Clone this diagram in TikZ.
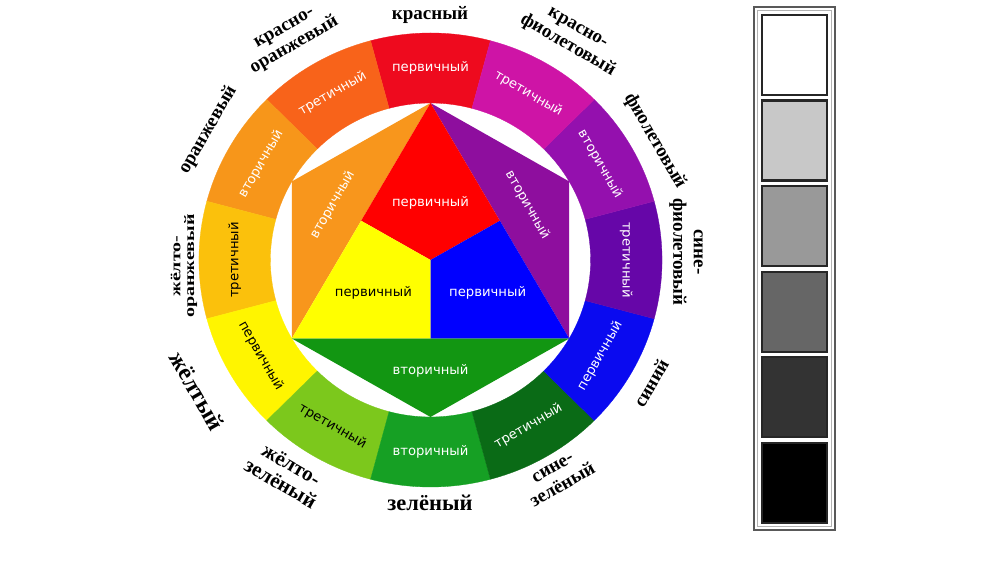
\documentclass[tikz,border=0pt]{standalone}
\usepackage{fontspec}
\usetikzlibrary{calc}
\setmainfont{Liberation Serif}
\newfontfamily\ringfont{DejaVu Sans}
\definecolor{cR}{HTML}{EE0A1E}
\definecolor{cRO}{HTML}{F8631A}
\definecolor{cO}{HTML}{F7961A}
\definecolor{cYO}{HTML}{FBC10C}
\definecolor{cY}{HTML}{FFF500}
\definecolor{cYG}{HTML}{7CC81C}
\definecolor{cG}{HTML}{16A024}
\definecolor{cBG}{HTML}{0A6B16}
\definecolor{cB}{HTML}{0A0AF0}
\definecolor{cBV}{HTML}{6606A8}
\definecolor{cV}{HTML}{9410AE}
\definecolor{cRV}{HTML}{CE14A6}
\definecolor{iR}{HTML}{FF0000}
\definecolor{iY}{HTML}{FFFF00}
\definecolor{iB}{HTML}{0000FF}
\definecolor{iO}{HTML}{F8961C}
\definecolor{iV}{HTML}{8E0E9E}
\definecolor{iG}{HTML}{129612}
\definecolor{g0}{HTML}{FFFFFF}
\definecolor{g1}{HTML}{C8C8C8}
\definecolor{g2}{HTML}{999999}
\definecolor{g3}{HTML}{666666}
\definecolor{g4}{HTML}{333333}
\definecolor{g5}{HTML}{000000}
\begin{document}
\begin{tikzpicture}[x=1pt,y=1pt,
  ringlbl/.style={font=\ringfont\fontsize{13.2}{14}\selectfont, inner sep=0pt},
  outlbl/.style={font=\bfseries\fontsize{19}{20.5}\selectfont, align=center, inner sep=0pt, text=black},
  graysq/.style={rectangle, minimum width=65, minimum height=80, draw=black!85, line width=2.2pt, inner sep=0pt}]
\useasboundingbox (0,0) rectangle (1008,567);
\fill[white] (0,0) rectangle (1008,567);
\begin{scope}[shift={(430.5,307)},xscale=1.02]
  \def\Ro{227}\def\Ri{157}
  % ring
  \foreach \a/\c in {90/cR,120/cRO,150/cO,180/cYO,210/cY,240/cYG,270/cG,300/cBG,330/cB,360/cBV,390/cV,420/cRV}{
    \fill[\c, draw=\c, line width=0.3pt] ({\a-15}:\Ro) arc[start angle={\a-15}, end angle={\a+15}, radius=\Ro]
      -- ({\a+15}:\Ri) arc[start angle={\a+15}, end angle={\a-15}, radius=\Ri] -- cycle;
  }
  % hexagon
  \coordinate (T) at (90:\Ri);
  \coordinate (UL) at (150:\Ri);
  \coordinate (LL) at (210:\Ri);
  \coordinate (B) at (270:\Ri);
  \coordinate (LR) at (330:\Ri);
  \coordinate (UR) at (30:\Ri);
  \coordinate (C) at (0,0);
  \coordinate (M1) at ($(T)!0.5!(LL)$);
  \coordinate (M2) at ($(T)!0.5!(LR)$);
  \coordinate (M3) at ($(LL)!0.5!(LR)$);
  \fill[iO] (T) -- (UL) -- (LL) -- cycle;
  \fill[iV] (T) -- (UR) -- (LR) -- cycle;
  \fill[iG] (LL) -- (B) -- (LR) -- cycle;
  \fill[iR] (T) -- (M2) -- (C) -- (M1) -- cycle;
  \fill[iY] (M1) -- (LL) -- (M3) -- (C) -- cycle;
  \fill[iB] (C) -- (M3) -- (LR) -- (M2) -- cycle;
  % inner labels
  \node[ringlbl, text=white] (ir) at (0,57) {первичный};
  \node[ringlbl, text=black] (iy) at (-56,-33) {первичный};
  \node[ringlbl, text=white] (ib) at (56,-33) {первичный};
  \node[ringlbl, text=white] (ig) at (0,-111) {вторичный};
  \node[ringlbl, text=white, rotate=60] (io) at (-96,55) {вторичный};
  \node[ringlbl, text=white, rotate=-60] (iv) at (95,55) {вторичный};
  % ring labels
  \foreach \a/\r/\t/\w [count=\k] in {90/0/white/первичный,120/30/white/третичный,150/60/white/вторичный,
     180/90/black/третичный,210/-60/black/первичный,240/-30/black/третичный,270/0/white/вторичный,
     300/30/white/третичный,330/60/white/первичный,0/-90/white/третичный,30/-60/white/вторичный,60/-30/white/третичный}{
    \node[ringlbl, text=\t, rotate=\r] (r\k) at (\a:192) {\w};
  }
\end{scope}
% outer labels (image coordinates)
\node[outlbl] (l1) at (430,{567-15}) {красный};
\node[outlbl, rotate=30] (l2) at (290,{567-38}) {красно-\\оранжевый};
\node[outlbl, rotate=60] (l3) at (208,{567-130}) {оранжевый};
\node[outlbl, font=\bfseries\fontsize{20}{19}\selectfont, rotate=90, yscale=0.72, transform shape] (l4) at (184,{567-266}) {жёлто-\\оранжевый};
\node[outlbl, font=\bfseries\fontsize{24}{24}\selectfont, rotate=-60] (l5) at (197,{567-391}) {жёлтый};
\node[outlbl, font=\bfseries\fontsize{21}{21.5}\selectfont, rotate=-30] (l6) at (286,{567-474}) {жёлто-\\зелёный};
\node[outlbl, font=\bfseries\fontsize{22.5}{23}\selectfont] (l7) at (430,{567-503}) {зелёный};
\node[outlbl, rotate=30] (l8) at (558,{567-477}) {сине-\\зелёный};
\node[outlbl, rotate=60] (l9) at (651,{567-383}) {синий};
\node[outlbl, rotate=-90] (l10) at (686,{567-252}) {сине-\\фиолетовый};
\node[outlbl, rotate=-60] (l11) at (655,{567-141}) {фиолетовый};
\node[outlbl, rotate=-30] (l12) at (572,{567-38}) {красно-\\фиолетовый};
% gray scale bar
\draw[black!65, line width=1.4pt] (754,37) rectangle (835,560);
\draw[black!30, line width=0.7pt] (757.5,40.5) rectangle (831.5,556.5);
\foreach \i in {0,...,5}{
  \node[graysq, fill=g\i] (s\i) at (794.5,{567-55-85.6*\i}) {};
}
\end{tikzpicture}
\end{document}
